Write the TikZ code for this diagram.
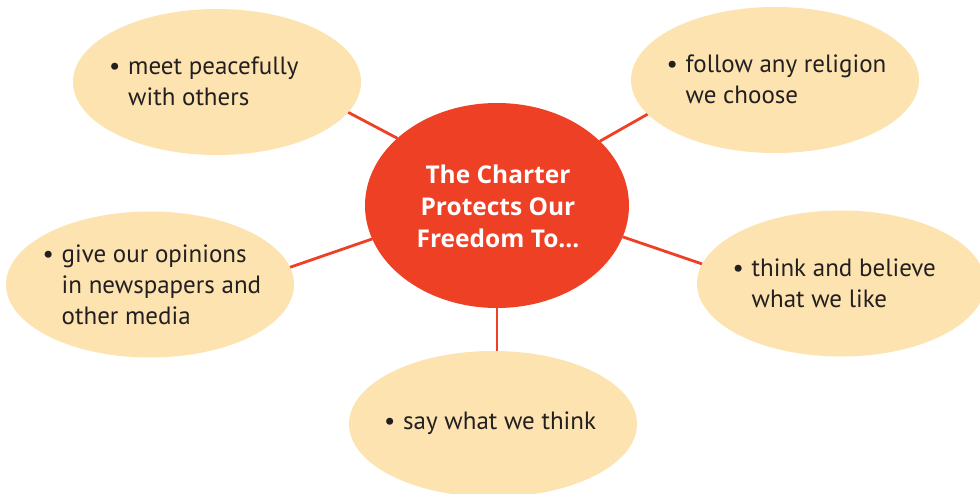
\documentclass[tikz,border=0pt]{standalone}
\usepackage{fontspec}
\setmainfont{PT Sans}
\newfontfamily\hubfont{Open Sans}
\usetikzlibrary{shapes.geometric,backgrounds}
\definecolor{bubfill}{HTML}{FDE3B0}
\definecolor{hubred}{HTML}{EE4024}
\definecolor{ink}{HTML}{231F20}
\newcommand\bul{\makebox[19pt][l]{\textbullet}}
\newcommand\ind{\hspace*{19pt}}
\tikzset{
  bub/.style={ellipse, fill=bubfill, minimum width=288pt, minimum height=146pt, inner sep=0pt, outer sep=0pt},
  hub/.style={ellipse, fill=hubred, minimum width=264pt, minimum height=205pt, inner sep=0pt, outer sep=0pt},
  txt/.style={anchor=base west, inner sep=0pt, text=ink, font=\fontsize{25}{31}\selectfont},
  hubtxt/.style={anchor=base, inner sep=0pt, text=white, font=\hubfont\fontsize{24.5}{32}\selectfont\bfseries},
  link/.style={draw=hubred, line width=2.8pt}
}
\begin{document}
\begin{tikzpicture}[x=1pt,y=-1pt]
\useasboundingbox (0,0) rectangle (980,494);
\node[hub] (c) at (497,205.5) {};
\node[bub] (tl) at (217,82) {};
\node[bub] (tr) at (775,80) {};
\node[bub] (l) at (150,284.5) {};
\node[bub] (r) at (841,283.5) {};
\node[bub] (b) at (493,424) {};
\begin{scope}[on background layer]
\fill[white] (0,0) rectangle (980,494);
\draw[link] (c.146) -- (tl.-13);
\draw[link] (c.32.5) -- (tr.195.5);
\draw[link] (c.195) -- (l.7);
\draw[link] (c.-14.6) -- (r.172.5);
\draw[link] (c.south) -- (c.south |- b.north);
\end{scope}
\node[hubtxt] (ct) at (498,184) {\vtop{\halign{\hfil#\hfil\cr The Charter\cr Protects Our\cr Freedom To...\cr}}};
\node[txt] (ttl) at (109,75) {\vtop{\hbox{\bul meet peacefully}\hbox{\ind with others}}};
\node[txt] (ttr) at (666.5,72.5) {\vtop{\hbox{\bul follow any religion}\hbox{\ind we choose}}};
\node[txt] (tl2) at (42.5,263) {\vtop{\hbox{\bul give our opinions}\hbox{\ind in newspapers and}\hbox{\ind other media}}};
\node[txt] (tr2) at (732.5,277) {\vtop{\hbox{\bul think and believe}\hbox{\ind what we like}}};
\node[txt] (tb) at (384,429.5) {\bul say what we think};
\end{tikzpicture}
\end{document}
